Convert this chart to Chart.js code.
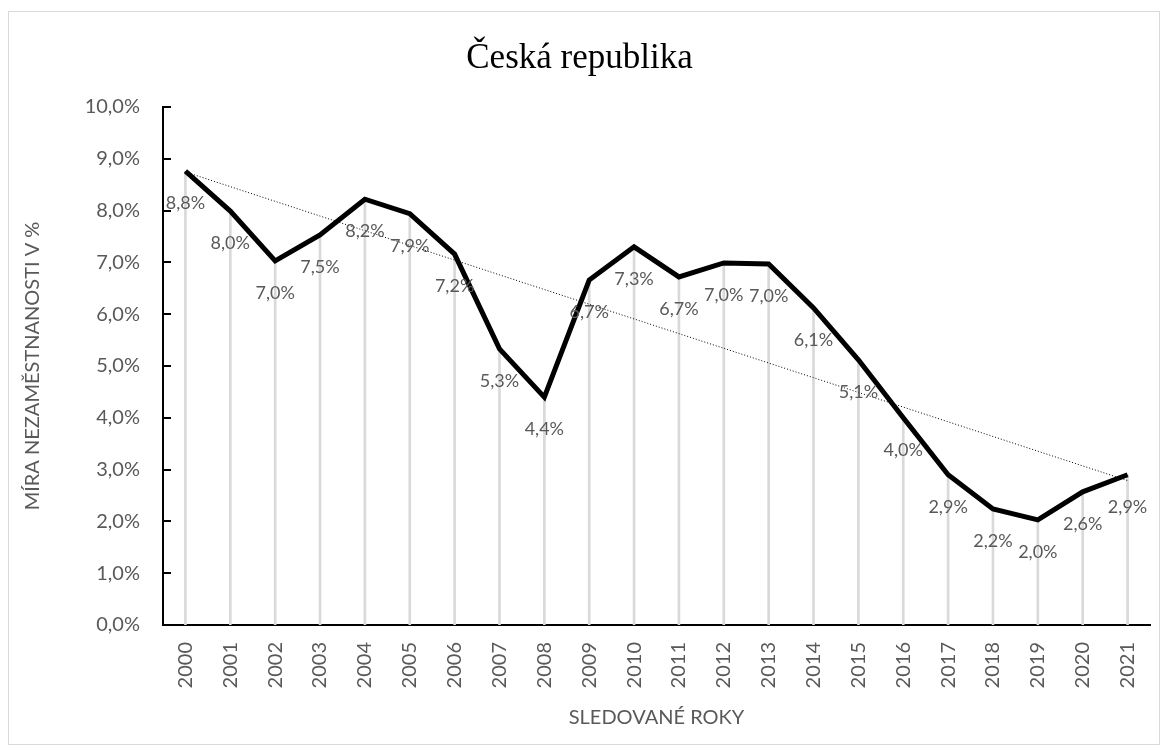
<!DOCTYPE html>
<html>
<head>
<meta charset="utf-8">
<script src="https://cdn.jsdelivr.net/npm/chart.js@4"></script>
<style>
  body { margin: 0; background: #fff; }
  #box {
    position: absolute; left: 8px; top: 11px;
    width: 1150px; height: 732px;
    border: 1px solid #d9d9d9;
  }
</style>
</head>
<body>
<div id="box"><canvas id="rateChart" width="1150" height="732"></canvas></div>
<script>
const years = ["2000", "2001", "2002", "2003", "2004", "2005", "2006", "2007", "2008", "2009", "2010",
  "2011", "2012", "2013", "2014", "2015", "2016", "2017", "2018", "2019", "2020", "2021"];
const rates = [8.76, 7.99, 7.03, 7.53, 8.22, 7.94, 7.16, 5.33, 4.40, 6.66, 7.30,
  6.72, 6.99, 6.97, 6.12, 5.12, 4.00, 2.90, 2.24, 2.03, 2.57, 2.90];
const yTicks = [0, 1, 2, 3, 4, 5, 6, 7, 8, 9, 10];

const grey = "#595959";
const sansFont = "Lato, 'Open Sans', sans-serif";

// linear trend (least squares) over the year index
function trend(vals) {
  const n = vals.length;
  let sx = 0, sy = 0, sxx = 0, sxy = 0;
  vals.forEach((v, i) => { sx += i; sy += v; sxx += i * i; sxy += i * v; });
  const b = (n * sxy - sx * sy) / (n * sxx - sx * sx);
  const a = (sy - b * sx) / n;
  return vals.map((v, i) => a + b * i);
}

function pct(v) {
  return v.toFixed(1).replace(".", ",") + "%";
}

const pointLabels = {
  id: "pointLabels",
  afterDatasetsDraw(chart) {
    const ctx = chart.ctx;
    const meta = chart.getDatasetMeta(1);
    ctx.save();
    ctx.fillStyle = grey;
    ctx.font = "18px " + sansFont;
    ctx.textAlign = "center";
    ctx.textBaseline = "middle";
    meta.data.forEach((pt, i) => {
      ctx.fillText(pct(rates[i]), pt.x, pt.y + 32);
    });
    ctx.restore();
  }
};

const innerTicks = {
  id: "innerTicks",
  afterDraw(chart) {
    const ctx = chart.ctx;
    const y = chart.scales.y;
    ctx.save();
    ctx.strokeStyle = "#000";
    ctx.lineWidth = 2;
    yTicks.forEach(t => {
      const py = Math.round(y.getPixelForValue(t));
      ctx.beginPath();
      ctx.moveTo(y.right, py);
      ctx.lineTo(y.right + 8, py);
      ctx.stroke();
    });
    ctx.restore();
  }
};

new Chart(document.getElementById("rateChart"), {
  data: {
    labels: years,
    datasets: [
      {
        type: "bar",
        data: rates,
        backgroundColor: "#d9d9d9",
        barThickness: 2,
        order: 3
      },
      {
        type: "line",
        data: rates,
        borderColor: "#000",
        borderWidth: 5,
        pointRadius: 0,
        tension: 0,
        order: 1
      },
      {
        type: "line",
        data: trend(rates),
        borderColor: "#000",
        borderWidth: 1,
        borderDash: [1, 2],
        pointRadius: 0,
        order: 2
      }
    ]
  },
  options: {
    responsive: false,
    animation: false,
    layout: { padding: { left: 0, right: 9, top: 0, bottom: 0 } },
    plugins: {
      legend: { display: false },
      tooltip: { enabled: false },
      title: {
        display: true,
        text: "Česká republika",
        color: "#000",
        font: { family: "'Liberation Serif', 'Times New Roman', serif", size: 35, weight: "normal" },
        padding: { top: 26, bottom: 27 }
      }
    },
    scales: {
      x: {
        offset: true,
        grid: { display: false, drawTicks: false },
        border: { display: true, color: "#000", width: 2 },
        ticks: {
          color: grey,
          font: { family: sansFont, size: 20 },
          minRotation: 90,
          maxRotation: 90,
          padding: 17,
          autoSkip: false
        },
        title: {
          display: true,
          text: "SLEDOVANÉ ROKY",
          color: grey,
          font: { family: sansFont, size: 20 },
          padding: { top: 4, bottom: 14 }
        },
        afterFit(scale) {
          scale.height = 119;
          scale.paddingLeft = 0;
          scale.paddingRight = 0;
        }
      },
      y: {
        min: 0,
        max: 10,
        grid: { display: false, drawTicks: false },
        border: { display: true, color: "#000", width: 2 },
        afterBuildTicks(scale) { scale.ticks = yTicks.map(v => ({ value: v })); },
        ticks: {
          color: grey,
          font: { family: sansFont, size: 20 },
          padding: 23,
          callback: v => pct(v)
        },
        title: {
          display: true,
          text: "MÍRA NEZAMĚSTNANOSTI V %",
          color: grey,
          font: { family: sansFont, size: 20 },
          padding: { top: 12, bottom: 0 }
        },
        afterFit(scale) { scale.width = 154; }
      }
    }
  },
  plugins: [pointLabels, innerTicks]
});
</script>
</body>
</html>
